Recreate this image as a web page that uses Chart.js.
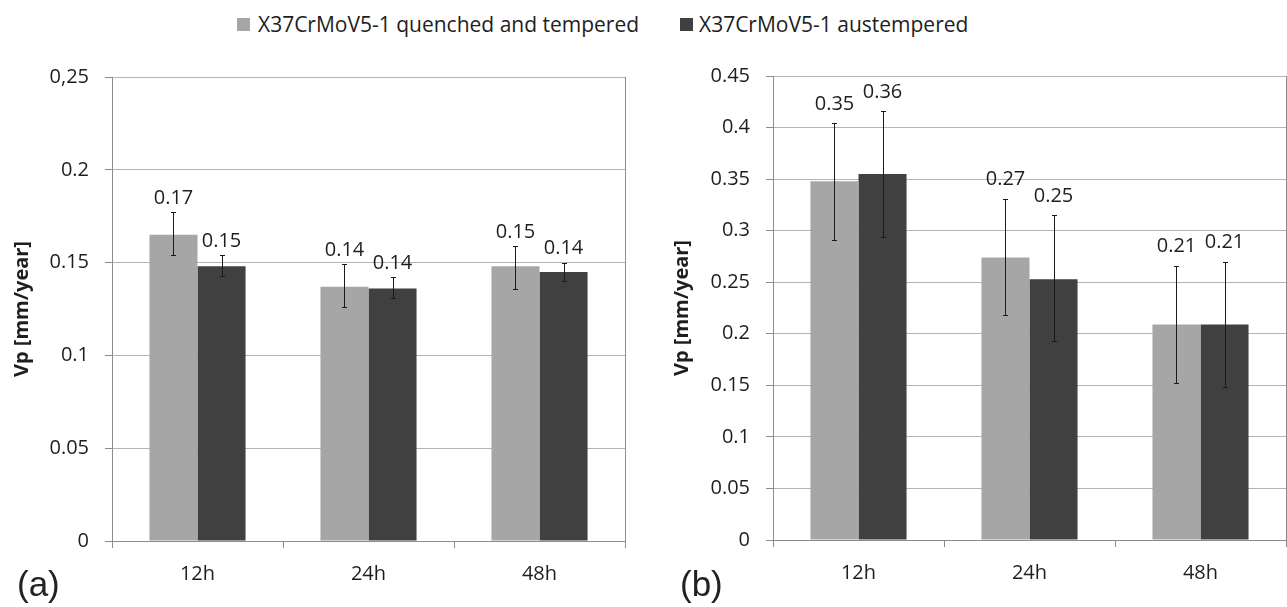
<!DOCTYPE html>
<html><head><meta charset="utf-8">
<script src="https://cdn.jsdelivr.net/npm/chart.js@4.4.1/dist/chart.umd.min.js"></script>
<style>
html,body{margin:0;padding:0;background:#fff;}
body{width:1287px;height:607px;position:relative;overflow:hidden;font-family:'Open Sans',sans-serif;color:#1e1e1e;}
canvas{position:absolute;top:0;}
.leg{position:absolute;top:10px;font-size:21px;line-height:28px;white-space:nowrap;}
.sq{position:absolute;width:13px;height:13px;top:18px;}
.pl{position:absolute;top:566px;font-family:'Liberation Sans',Arial,sans-serif;font-size:35px;line-height:35px;color:#222;}
</style></head><body>
<div class="sq" id="sq0" style="left:237px;"></div><div class="leg" id="lg0" style="left:258px;"></div>
<div class="sq" id="sq1" style="left:680px;"></div><div class="leg" id="lg1" style="left:699px;"></div>
<canvas id="ca" width="640" height="607" style="left:0px;"></canvas>
<canvas id="cb" width="647" height="607" style="left:640px;"></canvas>
<div class="pl" style="left:17px;">(a)</div>
<div class="pl" style="left:680px;">(b)</div>
<script>
// ---- data ----
const categories = ['12h', '24h', '48h'];
const seriesNames = ['X37CrMoV5-1 quenched and tempered', 'X37CrMoV5-1 austempered'];
const yTitle = 'Vp [mm/year]';

// (a)
const aQT      = [0.165, 0.137, 0.148];
const aQTLow   = [0.154, 0.126, 0.136];
const aQTHigh  = [0.177, 0.149, 0.159];
const aQTLbl   = ['0.17', '0.14', '0.15'];
const aAus     = [0.148, 0.136, 0.145];
const aAusLow  = [0.143, 0.131, 0.140];
const aAusHigh = [0.154, 0.142, 0.150];
const aAusLbl  = ['0.15', '0.14', '0.14'];
const aTicks   = ['0', '0.05', '0.1', '0.15', '0.2', '0,25'];

// (b)
const bQT      = [0.348, 0.274, 0.209];
const bQTLow   = [0.291, 0.218, 0.152];
const bQTHigh  = [0.404, 0.331, 0.266];
const bQTLbl   = ['0.35', '0.27', '0.21'];
const bAus     = [0.355, 0.253, 0.209];
const bAusLow  = [0.294, 0.193, 0.148];
const bAusHigh = [0.416, 0.315, 0.270];
const bAusLbl  = ['0.36', '0.25', '0.21'];
const bTicks   = ['0', '0.05', '0.1', '0.15', '0.2', '0.25', '0.3', '0.35', '0.4', '0.45'];

// ---- styles ----
const COLORS = ['#a6a6a6', '#404040'];
const AXIS = '#8c8c8c';
const GRID = '#b4b4b4';
const TXT = '#1e1e1e';
const FONT = 'Open Sans';

document.getElementById('sq0').style.background = COLORS[0];
document.getElementById('sq1').style.background = COLORS[1];
document.getElementById('lg0').textContent = seriesNames[0];
document.getElementById('lg1').textContent = seriesNames[1];

function errPlugin(lows, highs) {
  return {
    id: 'errbars',
    afterDatasetsDraw(chart) {
      const ctx = chart.ctx, y = chart.scales.y;
      ctx.save();
      ctx.strokeStyle = '#1a1a1a';
      ctx.lineWidth = 1;
      chart.data.datasets.forEach((ds, di) => {
        const meta = chart.getDatasetMeta(di);
        meta.data.forEach((el, i) => {
          const x = Math.round(el.x) + 0.5;
          const yl = Math.round(y.getPixelForValue(lows[di][i])) + 0.5;
          const yh = Math.round(y.getPixelForValue(highs[di][i])) + 0.5;
          ctx.beginPath();
          ctx.moveTo(x, yl); ctx.lineTo(x, yh);
          ctx.moveTo(x - 2.5, yl); ctx.lineTo(x + 2.5, yl);
          ctx.moveTo(x - 2.5, yh); ctx.lineTo(x + 2.5, yh);
          ctx.stroke();
        });
      });
      ctx.restore();
    }
  };
}

function labelPlugin(highs, labels, offset) {
  return {
    id: 'barlabels',
    afterDatasetsDraw(chart) {
      const ctx = chart.ctx, y = chart.scales.y;
      ctx.save();
      ctx.fillStyle = TXT;
      ctx.font = '20px "' + FONT + '"';
      ctx.textAlign = 'center';
      ctx.textBaseline = 'middle';
      chart.data.datasets.forEach((ds, di) => {
        const meta = chart.getDatasetMeta(di);
        meta.data.forEach((el, i) => {
          ctx.fillText(labels[di][i], el.x, y.getPixelForValue(highs[di][i]) - offset);
        });
      });
      ctx.restore();
    }
  };
}

function makeChart(id, vals, lows, highs, labels, yMax, tickLabels, axisW, xH, pad, titlePad, lblOffset) {
  return new Chart(document.getElementById(id), {
    type: 'bar',
    data: {
      labels: categories,
      datasets: vals.map((v, i) => ({
        label: seriesNames[i], data: v, backgroundColor: COLORS[i], borderWidth: 0,
        categoryPercentage: 0.562, barPercentage: 1
      }))
    },
    options: {
      responsive: false, animation: false,
      layout: { padding: pad },
      plugins: { legend: { display: false }, tooltip: { enabled: false } },
      scales: {
        x: {
          offset: true,
          grid: {
            offset: true, drawOnChartArea: true, drawTicks: true, tickLength: 7,
            color: (c) => (c.index === undefined ? AXIS : 'rgba(0,0,0,0)'),
            tickColor: AXIS
          },
          border: { display: true, color: AXIS, width: 1 },
          ticks: { font: { family: FONT, size: 20 }, color: TXT, padding: 14, maxRotation: 0 },
          afterFit: (s) => { s.height = xH; }
        },
        y: {
          min: 0, max: yMax,
          ticks: {
            stepSize: 0.05, font: { family: FONT, size: 20 }, color: TXT, padding: 16,
            callback: (v, i) => tickLabels[i]
          },
          grid: { color: GRID, tickColor: AXIS, tickLength: 7 },
          border: { display: true, color: AXIS, width: 1 },
          title: {
            display: true, text: yTitle, color: TXT,
            font: { family: FONT, size: 20, weight: 'bold' },
            padding: { top: titlePad, bottom: 0 }
          },
          afterFit: (s) => { s.width = axisW; }
        }
      }
    },
    plugins: [errPlugin(lows, highs), labelPlugin(highs, labels, lblOffset)]
  });
}

makeChart('ca', [aQT, aAus], [aQTLow, aAusLow], [aQTHigh, aAusHigh], [aQTLbl, aAusLbl],
  0.25, aTicks, 112, 66, { left: 0, top: 77, right: 15, bottom: 0 }, 10, 14);
makeChart('cb', [bQT, bAus], [bQTLow, bAusLow], [bQTHigh, bAusHigh], [bQTLbl, bAusLbl],
  0.45, bTicks, 133, 67, { left: 0, top: 76, right: 1, bottom: 0 }, 30, 19);
</script>
</body></html>
